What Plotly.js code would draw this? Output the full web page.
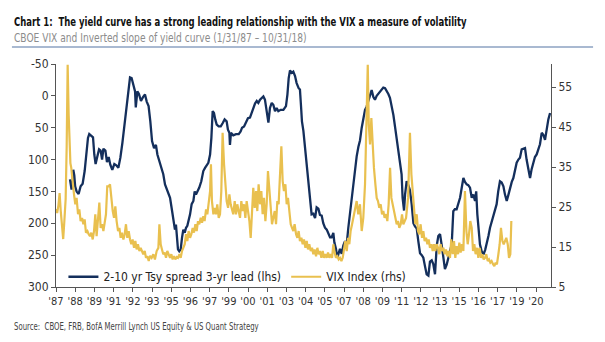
<!DOCTYPE html>
<html><head><meta charset="utf-8">
<script src="https://cdn.plot.ly/plotly-3.0.1.min.js"></script>
<style>body{margin:0;background:#fff}#chart{width:605px;height:342px}</style>
</head><body><div id="chart"></div>
<script>
// 2-10 yr Tsy spread, 3-yr lead (lhs, inverted), x in decimal years
const spreadDates = [1987.97,1988.08,1988.14,1988.20,1988.27,1988.33,1988.43,1988.57,1988.71,1988.85,1988.99,1989.13,1989.22,1989.31,1989.45,1989.57,1989.66,1989.75,1989.87,1989.99,1990.10,1990.20,1990.29,1990.43,1990.54,1990.66,1990.77,1990.91,1991.05,1991.19,1991.33,1991.47,1991.61,1991.75,1991.88,1992.02,1992.14,1992.25,1992.37,1992.49,1992.54,1992.58,1992.65,1992.76,1992.90,1993.04,1993.18,1993.30,1993.43,1993.55,1993.67,1993.81,1993.94,1994.04,1994.18,1994.31,1994.45,1994.57,1994.69,1994.80,1994.92,1995.03,1995.15,1995.26,1995.33,1995.38,1995.47,1995.56,1995.66,1995.75,1995.84,1995.94,1996.03,1996.12,1996.21,1996.31,1996.42,1996.54,1996.63,1996.72,1996.82,1996.95,1997.09,1997.23,1997.35,1997.46,1997.58,1997.70,1997.79,1997.88,1997.97,1998.06,1998.16,1998.30,1998.44,1998.57,1998.71,1998.85,1998.94,1999.04,1999.08,1999.15,1999.31,1999.50,1999.69,1999.82,1999.92,2000.06,2000.19,2000.33,2000.47,2000.61,2000.70,2000.82,2000.94,2001.05,2001.17,2001.28,2001.40,2001.51,2001.63,2001.75,2001.86,2001.98,2002.09,2002.21,2002.32,2002.44,2002.60,2002.79,2002.97,2003.07,2003.16,2003.25,2003.37,2003.48,2003.60,2003.71,2003.85,2003.94,2004.01,2004.08,2004.18,2004.29,2004.41,2004.52,2004.64,2004.75,2004.87,2004.99,2005.10,2005.22,2005.33,2005.45,2005.56,2005.68,2005.80,2005.91,2006.03,2006.14,2006.26,2006.33,2006.44,2006.54,2006.63,2006.72,2006.84,2006.95,2007.07,2007.19,2007.30,2007.42,2007.53,2007.65,2007.76,2007.88,2008.00,2008.11,2008.23,2008.34,2008.46,2008.57,2008.69,2008.81,2008.92,2009.04,2009.15,2009.27,2009.39,2009.50,2009.62,2009.73,2009.85,2009.96,2010.08,2010.19,2010.31,2010.43,2010.54,2010.66,2010.78,2010.89,2011.00,2011.07,2011.17,2011.24,2011.35,2011.47,2011.58,2011.70,2011.82,2011.93,2012.05,2012.16,2012.28,2012.40,2012.51,2012.63,2012.74,2012.86,2012.97,2013.09,2013.20,2013.32,2013.44,2013.55,2013.67,2013.79,2013.90,2014.01,2014.13,2014.25,2014.36,2014.48,2014.59,2014.70,2014.82,2014.94,2015.06,2015.17,2015.29,2015.40,2015.52,2015.63,2015.75,2015.87,2015.98,2016.10,2016.18,2016.26,2016.35,2016.44,2016.56,2016.68,2016.80,2016.91,2017.03,2017.14,2017.26,2017.37,2017.49,2017.60,2017.71,2017.83,2017.95,2018.07,2018.18,2018.30,2018.42,2018.53,2018.65,2018.76,2018.88,2018.99,2019.11,2019.22,2019.34,2019.45,2019.57,2019.68,2019.80,2019.92,2020.03,2020.15,2020.26,2020.38,2020.50,2020.61,2020.73,2020.84,2020.96,2021.07,2021.19,2021.31];
const spreadValues = [131,147,140,116,125,142,150,154,142,138,118,92,66,60,62,65,92,107,95,84,86,100,83,86,104,96,108,116,107,109,113,97,74,48,27,-2,-29,-28,-15,-7,18,5,-7,-3,8,2,-2,9,16,40,71,82,77,92,103,113,123,139,147,155,160,176,197,210,202,217,241,244,241,223,210,215,207,204,197,186,170,165,150,155,150,144,134,118,113,108,105,92,66,24,27,37,45,48,48,43,37,40,53,58,77,58,62,60,60,56,50,48,41,35,34,25,22,12,8,11,6,3,1,6,22,42,19,11,14,24,19,24,22,22,16,-2,-28,-40,-36,-38,-31,-20,-12,-10,14,40,55,80,110,130,160,186,185,192,175,177,187,188,200,207,210,217,222,222,215,230,240,254,248,240,248,235,228,232,207,183,160,142,115,95,80,70,50,33,22,17,8,-2,-9,2,6,0,-3,-6,-10,-13,-12,-8,-3,3,15,30,48,68,85,98,123,160,180,155,134,140,148,170,200,205,208,228,247,250,254,268,280,282,260,258,264,280,235,220,217,235,254,272,265,254,248,233,181,178,178,170,160,145,129,135,139,140,144,160,155,165,150,186,210,233,244,249,242,233,220,207,197,186,178,170,150,134,136,142,155,165,155,144,135,129,118,105,100,97,84,83,82,100,118,129,115,103,96,92,85,76,58,61,69,50,37,27];

// CBOE VIX index (rhs)
const vixDates = [1987.00,1987.08,1987.17,1987.25,1987.33,1987.42,1987.50,1987.58,1987.67,1987.74,1987.81,1987.88,1987.94,1988.00,1988.06,1988.16,1988.25,1988.34,1988.43,1988.53,1988.62,1988.71,1988.81,1988.90,1988.99,1989.08,1989.18,1989.27,1989.36,1989.45,1989.55,1989.64,1989.73,1989.82,1989.92,1990.01,1990.10,1990.20,1990.29,1990.38,1990.47,1990.56,1990.66,1990.75,1990.84,1990.94,1991.03,1991.12,1991.21,1991.31,1991.40,1991.49,1991.58,1991.68,1991.77,1991.86,1991.95,1992.05,1992.14,1992.23,1992.32,1992.42,1992.51,1992.60,1992.69,1992.79,1992.88,1992.97,1993.06,1993.16,1993.25,1993.34,1993.44,1993.53,1993.64,1993.76,1993.87,1993.99,1994.11,1994.18,1994.27,1994.36,1994.45,1994.55,1994.64,1994.73,1994.82,1994.92,1995.01,1995.10,1995.19,1995.29,1995.38,1995.47,1995.57,1995.66,1995.75,1995.84,1995.94,1996.03,1996.12,1996.21,1996.31,1996.40,1996.49,1996.58,1996.68,1996.77,1996.86,1996.95,1997.05,1997.14,1997.23,1997.32,1997.42,1997.51,1997.60,1997.70,1997.76,1997.83,1997.93,1998.02,1998.11,1998.20,1998.30,1998.39,1998.48,1998.57,1998.67,1998.76,1998.85,1998.95,1999.04,1999.13,1999.22,1999.31,1999.41,1999.50,1999.59,1999.69,1999.78,1999.87,1999.96,2000.06,2000.15,2000.24,2000.33,2000.43,2000.52,2000.61,2000.70,2000.80,2000.89,2000.98,2001.07,2001.17,2001.26,2001.35,2001.44,2001.54,2001.63,2001.72,2001.81,2001.91,2002.00,2002.09,2002.19,2002.28,2002.37,2002.46,2002.56,2002.65,2002.74,2002.83,2002.93,2003.02,2003.11,2003.20,2003.30,2003.39,2003.48,2003.57,2003.67,2003.76,2003.85,2003.94,2004.04,2004.13,2004.22,2004.32,2004.41,2004.50,2004.59,2004.69,2004.78,2004.87,2004.96,2005.06,2005.15,2005.24,2005.33,2005.43,2005.52,2005.61,2005.70,2005.80,2005.89,2005.98,2006.07,2006.17,2006.26,2006.35,2006.44,2006.54,2006.63,2006.72,2006.82,2006.91,2007.00,2007.09,2007.19,2007.28,2007.37,2007.46,2007.56,2007.65,2007.76,2007.88,2007.99,2008.11,2008.23,2008.34,2008.46,2008.56,2008.65,2008.72,2008.81,2008.90,2008.99,2009.08,2009.18,2009.27,2009.36,2009.45,2009.55,2009.64,2009.73,2009.82,2009.92,2010.01,2010.10,2010.20,2010.29,2010.38,2010.47,2010.57,2010.66,2010.75,2010.84,2010.94,2011.03,2011.12,2011.21,2011.31,2011.45,2011.58,2011.68,2011.77,2011.86,2011.95,2012.05,2012.14,2012.23,2012.32,2012.42,2012.51,2012.60,2012.70,2012.79,2012.88,2012.97,2013.07,2013.16,2013.25,2013.34,2013.44,2013.53,2013.62,2013.71,2013.81,2013.90,2013.99,2014.08,2014.18,2014.27,2014.36,2014.45,2014.55,2014.64,2014.73,2014.82,2014.92,2015.01,2015.10,2015.19,2015.29,2015.40,2015.50,2015.59,2015.68,2015.77,2015.87,2015.96,2016.05,2016.14,2016.24,2016.33,2016.42,2016.52,2016.61,2016.70,2016.79,2016.88,2016.98,2017.07,2017.16,2017.25,2017.35,2017.44,2017.53,2017.62,2017.72,2017.81,2017.90,2018.00,2018.09,2018.18,2018.27,2018.37,2018.46,2018.55,2018.62];
const vixValues = [24.5,23.5,25.5,28.5,24,20.5,17,21.5,27,40,60.6,48,40,36,34.8,30.7,28.2,25.7,27.3,23.2,24.4,21.5,22.3,20.7,21.9,18.6,19,18.2,17.7,18.6,16.9,19,23.2,17.7,22.3,26.1,19.8,20.7,19,20.7,23.2,30.2,30.2,30.7,27.3,24,22.3,25.2,21.5,19,19.8,17.3,18.6,16.9,18.2,20.7,17.3,19,16.9,15.7,16.9,14.8,16.5,14.4,15.7,14,14.8,14,13.2,14,12.3,12.7,11.5,12.8,12.3,13.2,11.9,14,14.8,20.7,15.7,14.4,13.2,13.6,12.3,14,13.2,12.3,13.2,11.9,12.7,11.9,12.5,12.3,13.2,12.3,14,14.8,15.7,18.2,16.5,19,17.3,18.2,19.8,18.6,20.7,19,21.5,20.7,22.3,21.1,22.7,21.5,24.4,23.2,25.7,29,35.7,26.5,23.2,24.8,23.2,25.7,22.3,23.2,29,43.6,35.7,30.7,26.5,24.8,28.2,25.7,24,23.2,26.5,23.2,25.7,24,22.3,26.5,24,25.7,22.3,26.5,24,21.5,17.3,24,29.8,24.8,29,24,30.7,25.7,29,23.2,27.3,21.5,25.7,34,29,24.8,20.7,22.3,24,20.7,26.5,25.7,33.2,40.2,31.5,29,30.7,25.7,27.3,23.2,20.7,19.8,19,20.7,18.2,17.3,19,16.5,17.3,15.7,16.9,14.8,16.5,14.4,15.7,14,14.8,13.2,14.4,12.7,14.8,13.2,14,12.3,14,12.3,13.2,12.3,13.6,12.3,13.2,12.3,15.7,13.6,12.3,12.7,11.9,12.3,11.5,12.3,14,16.5,14,17.3,15.7,19,20.7,22.3,24.8,26.5,23.2,25.7,19,22.3,30.7,45,60.6,45.7,40.7,47.3,39.8,34.8,30.7,27.3,26.5,24.8,25.7,23.2,24,22.3,23.2,21.5,25.7,34.8,27.3,25.7,23.2,22.3,20.7,21.5,19.8,20.7,23.2,20.7,21.5,22.3,27.3,43.6,33.2,27.3,24.8,20.7,23.2,19,18.2,20.7,17.3,19,16.5,17.3,15.7,16.9,14.8,15.7,14,15.7,14,15.7,14.8,13.2,15.7,14,14.8,13.2,14.4,12.7,14,12.3,16.9,13.2,16.5,12.3,15.2,13.2,16.1,13.6,15.7,14,29,19,15.7,18.2,21.5,19.8,14,15.7,13.2,14.8,12.3,14.8,12.3,13.2,11.9,12.3,13.2,11.5,11.9,11.1,11.5,10.7,10.2,11.1,10.7,13.2,15.7,19.8,16.5,15.7,16.5,17.3,15.7,12.3,13.2,21.5];

const xTickText = ["'87","'88","'89","'91","'92","'93","'95","'96","'97","'99","'00","'01","'03","'04","'05","'07","'08","'09","'11","'12","'13","'15","'16","'17","'19","'20"];
const xTickVals = xTickText.map((t, i) => 1987 + i * 16 / 12);
const leftTicks = [-50, 0, 50, 100, 150, 200, 250, 300];
const leftTickText = ['-50', '0', '50', '100', '150', '200', '250', '300'];
const rightTicks = [5, 15, 25, 35, 45, 55];

const NARROW = "'Liberation Sans Narrow', 'Arial Narrow', 'DejaVu Sans Condensed', sans-serif";
const NAVY = '#142f5c', GOLD = '#e9c04f';

const traces = [
  {x: spreadDates, y: spreadValues, type: 'scatter', mode: 'lines', name: '2-10 yr Tsy spread 3-yr lead (lhs)',
   line: {color: NAVY, width: 2.3}, yaxis: 'y', legend: 'legend'},
  {x: vixDates, y: vixValues, type: 'scatter', mode: 'lines', name: 'VIX Index (rhs)',
   line: {color: GOLD, width: 2.2}, yaxis: 'y2', legend: 'legend2'}
];

const axisCommon = {showgrid: false, zeroline: false, showline: true, linecolor: '#555', linewidth: 1,
  ticks: 'outside', ticklen: 4, tickcolor: '#555', tickfont: {family: NARROW, size: 12, color: '#333'}};

const layout = {
  width: 605, height: 342,
  margin: {l: 56, r: 54, t: 64, b: 55},
  paper_bgcolor: '#fff', plot_bgcolor: '#fff',
  showlegend: true,
  xaxis: Object.assign({}, axisCommon, {range: [1987, 2021.375], tickvals: xTickVals, ticktext: xTickText,
    tickfont: {family: NARROW, size: 11, color: '#333'}}),
  yaxis: Object.assign({}, axisCommon, {range: [300, -50], tickvals: leftTicks, ticktext: leftTickText}),
  yaxis2: Object.assign({}, axisCommon, {range: [5, 60.8], overlaying: 'y', side: 'right', tickvals: rightTicks}),
  legend: {x: 0.015, y: 0.046, xanchor: 'left', yanchor: 'middle', orientation: 'h', bgcolor: 'rgba(0,0,0,0)',
    font: {family: NARROW, size: 12, color: '#222'}},
  legend2: {x: 0.465, y: 0.046, xanchor: 'left', yanchor: 'middle', orientation: 'h', bgcolor: 'rgba(0,0,0,0)',
    font: {family: NARROW, size: 12, color: '#222'}},
  annotations: [
    {xref: 'paper', yref: 'paper', x: -0.089, y: 1.19, xanchor: 'left', yanchor: 'middle', align: 'left', showarrow: false,
     text: '<b>Chart 1:  The yield curve has a strong leading relationship with the VIX a measure of volatility</b>',
     font: {family: NARROW, size: 13, color: '#111'}},
    {xref: 'paper', yref: 'paper', x: -0.089, y: 1.117, xanchor: 'left', yanchor: 'middle', align: 'left', showarrow: false,
     text: 'CBOE VIX and Inverted slope of yield curve (1/31/87 – 10/31/18)',
     font: {family: NARROW, size: 12.5, color: '#8c8c8c'}},
    {xref: 'paper', yref: 'paper', x: -0.089, y: -0.175, xanchor: 'left', yanchor: 'middle', align: 'left', showarrow: false,
     text: 'Source:  CBOE, FRB, BofA Merrill Lynch US Equity & US Quant Strategy',
     font: {family: NARROW, size: 10, color: '#444'}}
  ],
  shapes: [
    {type: 'line', xref: 'paper', yref: 'paper', x0: -0.089, x1: 1.085, y0: 1.076, y1: 1.076,
     line: {color: '#8da2c2', width: 1.5}}
  ]
};

// target rendered widths (px) of the title, subtitle and source lines, as in the reference (condensed typeface)
const textWidths = [453, 293, 245];

Plotly.newPlot('chart', traces, layout, {displayModeBar: false, staticPlot: true}).then(gd => {
  gd.querySelectorAll('.annotation-text').forEach((el, i) => {
    if (!textWidths[i]) return;
    const natural = el.getComputedTextLength();
    if (!natural) return;
    const s = textWidths[i] / natural;
    const x0 = parseFloat(el.getAttribute('x')) || 0;
    el.setAttribute('transform', `matrix(${s},0,0,1,${x0 * (1 - s)},0)`);
  });
});
</script></body></html>
